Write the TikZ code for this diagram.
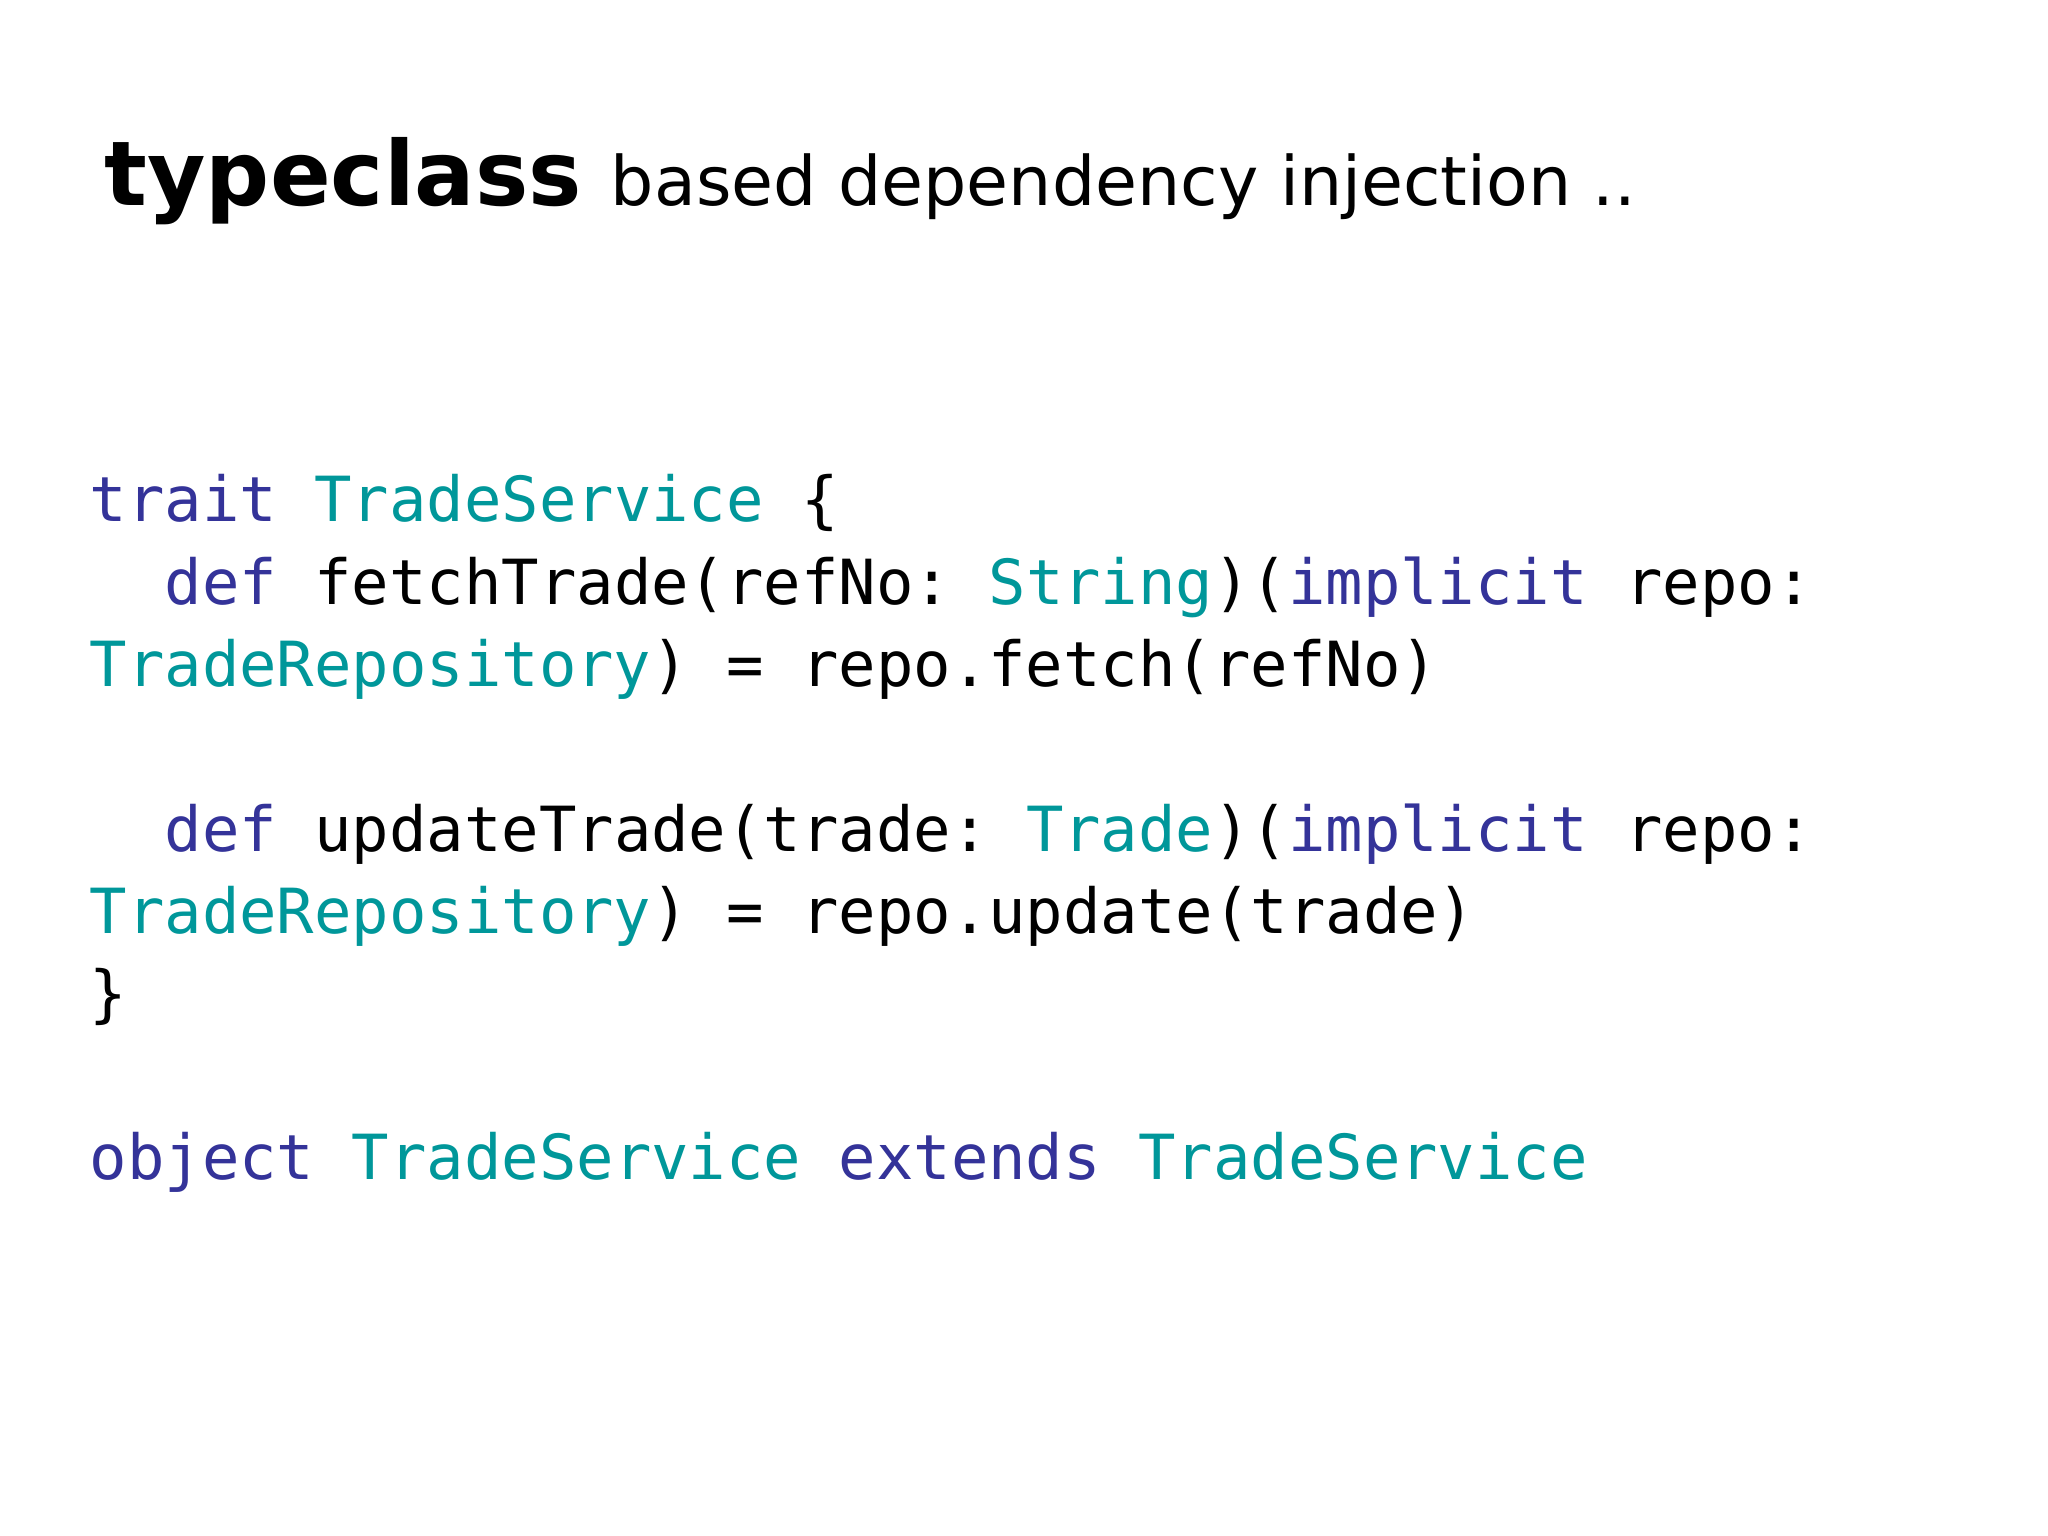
\documentclass[tikz,border=0pt]{standalone}
\usepackage{fontspec}
\setmainfont{DejaVu Sans}
\setmonofont{DejaVu Sans Mono}
\definecolor{kw}{HTML}{343399}
\definecolor{ty}{HTML}{00979A}
\tikzset{codeline/.style={anchor=base west,inner sep=0pt,font=\ttfamily\fontsize{17.7pt}{20pt}\selectfont}}
\newcommand{\K}[1]{\textcolor{kw}{#1}}
\newcommand{\T}[1]{\textcolor{ty}{#1}}
\begin{document}
\begin{tikzpicture}
\useasboundingbox[fill=white] (0,0) rectangle (20.48,-15.36);
\node[anchor=base west,inner sep=0pt] (title) at (1.04,-2.06)
 {{\fontsize{25.5pt}{28pt}\selectfont\bfseries typeclass}\hspace{0.29cm}{\fontsize{19.4pt}{22pt}\selectfont based dependency injection ..}};
\node[codeline] (l1) at (0.89,-5.22) {\K{trait} \T{TradeService} \{};
\node[codeline] (l2) at (0.89,-6.043) {\phantom{xx}\K{def} fetchTrade(refNo: \T{String})(\K{implicit} repo:};
\node[codeline] (l3) at (0.89,-6.866) {\T{TradeRepository}) = repo.fetch(refNo)};
\node[codeline] (l5) at (0.89,-8.512) {\phantom{xx}\K{def} updateTrade(trade: \T{Trade})(\K{implicit} repo:};
\node[codeline] (l6) at (0.89,-9.335) {\T{TradeRepository}) = repo.update(trade)};
\node[codeline] (l7) at (0.89,-10.158) {\}};
\node[codeline] (l9) at (0.89,-11.79) {\K{object} \T{TradeService} \K{extends} \T{TradeService}};
\end{tikzpicture}
\end{document}
